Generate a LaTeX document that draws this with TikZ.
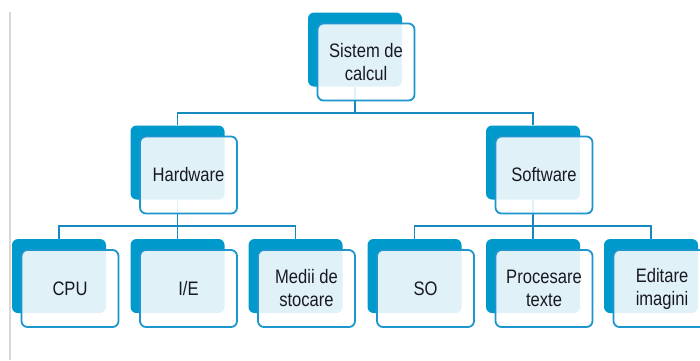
\documentclass[tikz,border=0pt]{standalone}
\usepackage{fontspec}
\setmainfont{Liberation Sans}[FakeStretch=0.85]
\usetikzlibrary{positioning}

\definecolor{boxblue}{RGB}{0,153,204}
\definecolor{edgeblue}{RGB}{28,150,205}
\definecolor{linkblue}{RGB}{22,138,190}
\definecolor{inkdark}{RGB}{25,25,35}
\definecolor{railgray}{RGB}{215,215,215}

\tikzset{
  backbox/.style={fill=boxblue, rounded corners=6pt, minimum width=94pt, minimum height=74pt, inner sep=0pt},
  frontbox/.style={draw=edgeblue, line width=1.8pt, fill=white, fill opacity=0.88, draw opacity=1, text opacity=1,
    rounded corners=6pt, minimum width=97pt, minimum height=77pt, inner sep=0pt, align=center,
    text=inkdark, font=\fontsize{19.5}{23}\selectfont},
  conn/.style={draw=linkblue, line width=1.8pt},
  lift/.style={shift={(11,12.5)}}
}

\begin{document}
\begin{tikzpicture}[x=1pt, y=-1pt]
    \useasboundingbox (0,0) rectangle (700,360);
    \clip (0,0) rectangle (700,360);
    \fill[white] (0,0) rectangle (700,360);
    \draw[railgray, line width=1.8pt] (10,12) -- (10,360);

    % Back boxes (tree layout)
    \node[backbox] (sys) at (355,49.5) {};

    \node[backbox] (hw) at (177.5,162.5) {};
    \node[backbox] (sw) at (533,162.5) {};

    \node[backbox] (cpu) at (59,276) {};
    \node[backbox] (ie) at (177.5,276) {};
    \node[backbox] (med) at (295.5,276) {};
    \node[backbox] (so) at (414.5,276) {};
    \node[backbox] (proc) at (533,276) {};
    \node[backbox] (edit) at (651,276) {};

    % Junctions
    \coordinate (j0) at (355,113);
    \coordinate (j1) at (177.5,226);
    \coordinate (j2) at (533,226);

    % Links
    \draw[conn] (sys.south) -- (j0);
    \draw[conn] (hw.north) |- (j0) -| (sw.north);

    \draw[conn] (hw.south) -- (j1);
    \draw[conn] (cpu.north) |- (j1) -| (med.north);
    \draw[conn] (ie.north) -- (j1);

    \draw[conn] (sw.south) -- (j2);
    \draw[conn] (so.north) |- (j2) -| (edit.north);
    \draw[conn] (proc.north) -- (j2);

    % Labels (front boxes)
    \node[frontbox] (sysl) at ([lift]sys.center) {Sistem de\\calcul};

    \node[frontbox] (hwl) at ([lift]hw.center) {Hardware};
    \node[frontbox] (swl) at ([lift]sw.center) {Software};

    \node[frontbox] (cpul) at ([lift]cpu.center) {CPU};
    \node[frontbox] (iel) at ([lift]ie.center) {I/E};
    \node[frontbox] (medl) at ([lift]med.center) {Medii de\\stocare};
    \node[frontbox] (sol) at ([lift]so.center) {SO};
    \node[frontbox] (procl) at ([lift]proc.center) {Procesare\\texte};
    \node[frontbox] (editl) at ([lift]edit.center) {Editare\\imagini};
\end{tikzpicture}
\end{document}
